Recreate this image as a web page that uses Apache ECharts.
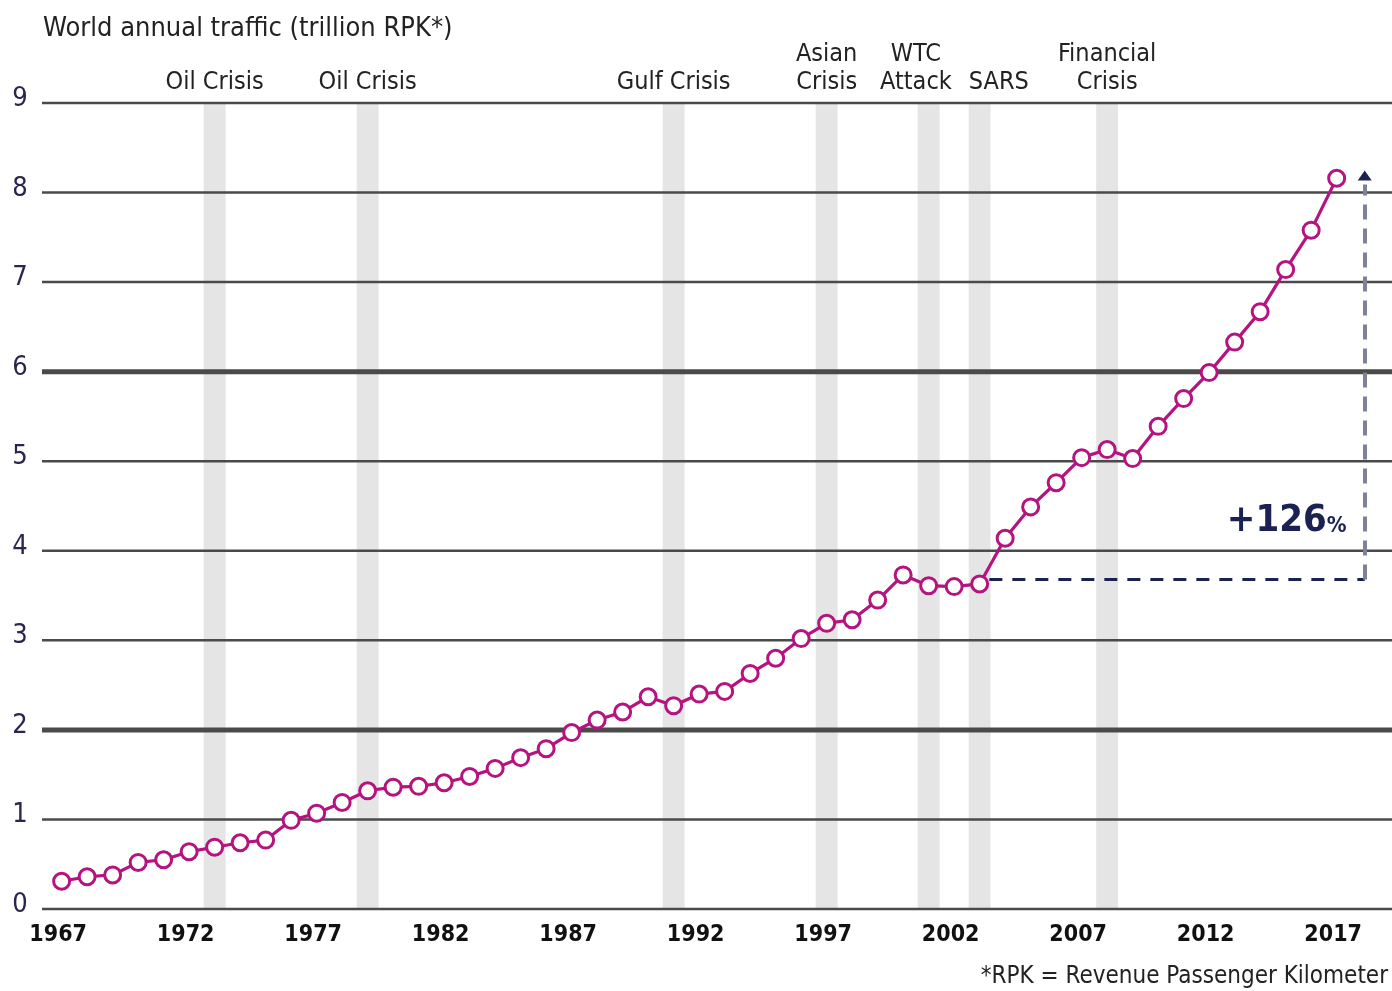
<!DOCTYPE html>
<html>
<head>
<meta charset="utf-8">
<script src="https://cdn.jsdelivr.net/npm/echarts@6/dist/echarts.min.js"></script>
<style>
  html, body { margin: 0; padding: 0; background: #ffffff; }
  #chart { width: 1392px; height: 991px; }
</style>
</head>
<body>
<div id="chart"></div>
<script>
// ---------------- data ----------------
const years = [1967,1968,1969,1970,1971,1972,1973,1974,1975,1976,
               1977,1978,1979,1980,1981,1982,1983,1984,1985,1986,
               1987,1988,1989,1990,1991,1992,1993,1994,1995,1996,
               1997,1998,1999,2000,2001,2002,2003,2004,2005,2006,
               2007,2008,2009,2010,2011,2012,2013,2014,2015,2016,2017];
const traffic = [0.31,0.36,0.38,0.52,0.55,0.64,0.69,0.74,0.77,0.99,
                 1.07,1.19,1.32,1.36,1.37,1.41,1.48,1.57,1.69,1.79,
                 1.97,2.11,2.20,2.37,2.27,2.40,2.43,2.63,2.80,3.02,
                 3.19,3.23,3.45,3.73,3.61,3.60,3.63,4.14,4.49,4.76,
                 5.04,5.13,5.03,5.39,5.70,5.99,6.33,6.67,7.14,7.58,8.16];
const xTickYears = [1967,1972,1977,1982,1987,1992,1997,2002,2007,2012,2017];
const yTicks = [0,1,2,3,4,5,6,7,8,9];
const heavyTicks = [2,6];
const crisisYears = [1973,1979,1991,1997,2001,2003,2008];
const crisisLabels = ['Oil Crisis','Oil Crisis','Gulf Crisis','Asian\nCrisis','WTC\nAttack','SARS','Financial\nCrisis'];
const growthBase = 3.68;      // level of horizontal dashed reference
const growthTop = 8.19;       // tip of the arrow
const growthLabel = '+126';
const titleText = 'World annual traffic (trillion RPK*)';
const footnoteText = '*RPK = Revenue Passenger Kilometer';

// ---------------- styles / layout ----------------
const X_MIN = 1966.23, X_MAX = 2019.17;
const Y_MIN = 0, Y_MAX = 9;
const BAND_HALF = 0.43;
const labelShift = { 'WTC\nAttack': -0.5, 'SARS': 0.75 };
const ANNO_X = 2018.1, ANNO_START_X = 2003.38;
const LABEL_POS = [2017.39, 4.33];
const FONT = '"DejaVu Sans Condensed", "Liberation Sans Narrow", sans-serif';
const MAGENTA = '#b5137f';
const NAVY = '#1b2252';
const GRID = '#4a4a4a';

const chart = echarts.init(document.getElementById('chart'), null, { renderer: 'canvas' });

const option = {
  animation: false,
  backgroundColor: '#ffffff',
  title: [
    { text: titleText, left: 38, top: 10,
      textStyle: { fontFamily: FONT, fontSize: 27, fontWeight: 'normal', color: '#222' } },
    { text: footnoteText, right: -1, bottom: -3,
      textStyle: { fontFamily: FONT, fontSize: 24, fontWeight: 'normal', color: '#222' } }
  ],
  grid: { left: 42, right: 0, top: 103, height: 806, containLabel: false },
  xAxis: {
    type: 'value', min: X_MIN, max: X_MAX,
    axisLine: { show: false }, axisTick: { show: false }, splitLine: { show: false },
    axisLabel: {
      customValues: xTickYears,
      formatter: v => String(Math.round(v)),
      fontFamily: FONT, fontSize: 23, fontWeight: 'bold', color: '#111',
      margin: 15, padding: [0, 7, 0, 0]
    }
  },
  yAxis: {
    type: 'value', min: Y_MIN, max: Y_MAX, interval: 1,
    axisLine: { show: false }, axisTick: { show: false }, splitLine: { show: false },
    axisLabel: {
      fontFamily: FONT, fontSize: 27, color: '#2a2550', align: 'center',
      verticalAlign: 'bottom', lineHeight: 8, margin: 22
    }
  },
  series: [
    {
      // crisis bands + labels
      type: 'custom', z: 1, silent: true,
      data: crisisYears.map((y, i) => [y, Y_MAX, i]),
      renderItem: function (params, api) {
        const yr = api.value(0);
        const idx = api.value(2);
        const p0 = api.coord([yr - BAND_HALF, Y_MAX]);
        const p1 = api.coord([yr + BAND_HALF, Y_MIN]);
        const lbl = crisisLabels[idx];
        const lx = api.coord([yr + (labelShift[lbl] || 0), Y_MAX])[0];
        return {
          type: 'group',
          children: [
            { type: 'rect', shape: { x: p0[0], y: p0[1], width: p1[0] - p0[0], height: p1[1] - p0[1] },
              style: { fill: '#e5e5e5' } },
            { type: 'text', x: lx, y: p0[1] - 7,
              style: { text: lbl, fontFamily: FONT, fontSize: 25, lineHeight: 28,
                       fill: '#222', align: 'center', verticalAlign: 'bottom' } }
          ]
        };
      }
    },
    {
      // horizontal grid lines
      type: 'custom', z: 2, silent: true,
      data: yTicks.map(v => [X_MIN, v]),
      renderItem: function (params, api) {
        const v = api.value(1);
        const a = api.coord([X_MIN, v]);
        const b = api.coord([X_MAX, v]);
        const heavy = heavyTicks.indexOf(v) >= 0;
        return { type: 'line', shape: { x1: a[0], y1: a[1], x2: b[0], y2: b[1] },
                 style: { stroke: GRID, lineWidth: heavy ? 5 : 2.5 } };
      }
    },
    {
      type: 'line', z: 5,
      data: years.map((y, i) => [y, traffic[i]]),
      symbol: 'circle', symbolSize: 16, showSymbol: true,
      lineStyle: { color: MAGENTA, width: 3.2 },
      itemStyle: { color: '#ffffff', borderColor: MAGENTA, borderWidth: 3 },
      markLine: {
        silent: true, symbol: ['none', 'none'], animation: false,
        label: { show: false },
        data: [
          [ { coord: [ANNO_START_X, growthBase], lineStyle: { color: NAVY, width: 3, type: [13, 10] } },
            { coord: [ANNO_X, growthBase] } ],
          [ { coord: [ANNO_X, growthBase], lineStyle: { color: '#7d8299', width: 4, type: [15, 9] } },
            { coord: [ANNO_X, growthTop - 0.1] } ]
        ]
      },
      markPoint: {
        silent: true, animation: false,
        data: [
          { coord: [ANNO_X, growthTop], symbol: 'triangle', symbolSize: [14, 10],
            itemStyle: { color: NAVY, borderWidth: 0 }, label: { show: false } },
          { coord: LABEL_POS, symbol: 'circle', symbolSize: 0,
            label: {
              show: true, position: 'inside', align: 'right', verticalAlign: 'middle',
              formatter: '{a|' + growthLabel + '}{b|%}',
              rich: {
                a: { fontFamily: FONT, fontSize: 38, fontWeight: 'bold', color: NAVY },
                b: { fontFamily: FONT, fontSize: 22, fontWeight: 'bold', color: NAVY, padding: [10, 0, 0, 0] }
              }
            } }
        ]
      }
    }
  ]
};
chart.setOption(option);
</script>
</body>
</html>
